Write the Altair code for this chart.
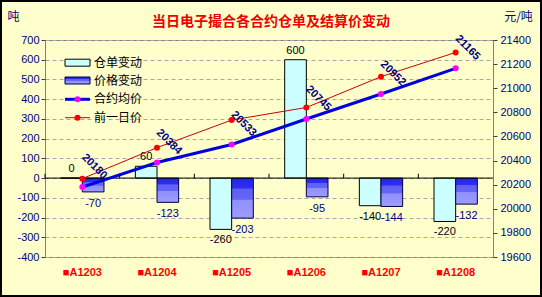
import altair as alt
import pandas as pd

# ---- data ----
cats = ["■A1203", "■A1204", "■A1205", "■A1206", "■A1207", "■A1208"]
warrant_chg = [0, 60, -260, 600, -140, -220]          # 仓单变动 (吨)
price_chg = [-70, -123, -203, -95, -144, -132]        # 价格变动
avg_price = [20180, 20384, 20533, 20745, 20952, 21165]  # 合约均价
prev_price = [20250, 20507, 20736, 20840, 21096, 21297]  # 前一日价
series_bar = ["仓单变动", "价格变动"]
series_line = ["合约均价", "前一日价"]
left_ticks = list(range(-400, 701, 100))
right_ticks = list(range(19600, 21401, 200))
title_text = "当日电子撮合各合约仓单及结算价变动"

NAVY = "#000080"
CJK = "Noto Sans CJK SC"
W, H = 448, 217

bars_df = pd.DataFrame({
    "cat": cats * 2,
    "series": [series_bar[0]] * len(cats) + [series_bar[1]] * len(cats),
    "value": warrant_chg + price_chg,
})
lines_df = pd.DataFrame({"cat": cats, "avg": avg_price, "prev": prev_price})
one = pd.DataFrame({"k": [0]})

x_scale = alt.Scale(paddingInner=0.42, paddingOuter=0.21)
x_axis = alt.Axis(title=None, labelColor="#FF0000", labelFontWeight="bold",
                  labelFontSize=11, labelAngle=0, ticks=False, domain=False,
                  labelPadding=9, labelFont="Liberation Sans")


def make_x(**kw):
    return alt.X("cat:N", sort=cats, scale=x_scale, axis=x_axis, **kw)


xo = alt.XOffset("series:N", sort=series_bar,
                 scale=alt.Scale(domain=series_bar, paddingInner=0, paddingOuter=0))

left_scale = alt.Scale(domain=[-400, 700], nice=False, zero=False)
left_axis = alt.Axis(values=left_ticks, title="吨", titleAngle=0, titleX=-32, titleY=-24,
                     titleAlign="center", titleBaseline="middle", titleColor=NAVY,
                     titleFont=CJK, titleFontSize=12, titleFontWeight="normal",
                     labelColor=NAVY, labelFontSize=11, tickSize=4, tickColor="#404040",
                     labelPadding=2, domain=False, grid=True, gridColor="#A8A8A8",
                     gridDash=[4, 3], labelOverlap=False,
                     labelExpr="'' + datum.value")
y_left = alt.Y("value:Q", scale=left_scale, axis=left_axis)


def y_right(field):
    return alt.Y(f"{field}:Q", scale=alt.Scale(domain=[19600, 21400], nice=False, zero=False),
                 axis=alt.Axis(orient="right", values=right_ticks, title="元/吨", titleAngle=0,
                               titleX=25, titleY=-24, titleAlign="center", titleBaseline="middle",
                               titleColor=NAVY, titleFont=CJK, titleFontSize=12,
                               titleFontWeight="normal", labelColor=NAVY, labelFontSize=11,
                               tickSize=4, tickColor="#404040", labelPadding=3, domain=False,
                               grid=False, labelOverlap=False,
                               labelExpr="'' + datum.value"))


grad = alt.Gradient(gradient="linear", x1=0, x2=0, y1=0, y2=1, stops=[
    alt.GradientStop(offset=0, color="#2424EE"),
    alt.GradientStop(offset=0.25, color="#2E2EF0"),
    alt.GradientStop(offset=0.27, color="#5E5EF2"),
    alt.GradientStop(offset=0.53, color="#6666F4"),
    alt.GradientStop(offset=0.55, color="#9090FF"),
    alt.GradientStop(offset=1, color="#9C9CFF"),
])

base_bars = alt.Chart(bars_df).transform_calculate(label="'' + datum.value")

bar_w = base_bars.transform_filter(alt.datum.series == series_bar[0]).mark_bar(
    fill="#CCFFFF", stroke="#000000", strokeWidth=1).encode(x=make_x(), xOffset=xo, y=y_left)
bar_p = base_bars.transform_filter(alt.datum.series == series_bar[1]).mark_bar(
    fill=grad, stroke="#000040", strokeWidth=1).encode(x=make_x(), xOffset=xo, y=y_left)

lbl_w_pos = base_bars.transform_filter(
    f"datum.series == '{series_bar[0]}' && datum.value >= 0").mark_text(
    baseline="bottom", dy=-4, color="#000000", fontSize=11, font="Liberation Sans").encode(
    x=make_x(), xOffset=xo, y=y_left, text="label:N")
lbl_w_neg = base_bars.transform_filter(
    f"datum.series == '{series_bar[0]}' && datum.value < 0").mark_text(
    baseline="top", dy=5, color="#000000", fontSize=11, font="Liberation Sans").encode(
    x=make_x(), xOffset=xo, y=y_left, text="label:N")
lbl_p = base_bars.transform_filter(alt.datum.series == series_bar[1]).mark_text(
    baseline="top", dy=6, color=NAVY, fontSize=11, font="Liberation Sans").encode(
    x=make_x(), xOffset=xo, y=y_left, text="label:N")

zero_rule = alt.Chart(one).mark_rule(color="#000000", strokeWidth=1).encode(
    y=alt.YDatum(0, scale=left_scale, axis=left_axis))
cat_ticks = alt.Chart(pd.DataFrame({"cat": cats})).mark_rule(
    color="#000000", strokeWidth=1, xOffset=-15.68).encode(
    x=make_x(bandPosition=0), y=alt.YDatum(0, scale=left_scale, axis=left_axis),
    y2=alt.datum(22))

# title and frame
title_mark = alt.Chart(one).mark_text(text=title_text, font=CJK, fontSize=14, fontWeight="bold",
                                      color="#EE0000", align="center", baseline="middle").encode(
    x=alt.value(226), y=alt.value(-18))
frame = alt.Chart(one).mark_rect(fillOpacity=0, stroke="#000000", strokeWidth=2).encode(
    x=alt.value(-44), x2=alt.value(W + 48), y=alt.value(-39), y2=alt.value(H + 39))

# legend (inside plot, upper left)
leg = []
ly = [22.7, 40.5, 59.3, 77.7]
leg.append(alt.Chart(one).mark_rect(fill="#CCFFFF", stroke="#000000", strokeWidth=1).encode(
    x=alt.value(20), x2=alt.value(45), y=alt.value(ly[0] - 3.5), y2=alt.value(ly[0] + 3.5)))
leg.append(alt.Chart(one).mark_rect(fill=grad, stroke="#000040", strokeWidth=1).encode(
    x=alt.value(20), x2=alt.value(45), y=alt.value(ly[1] - 3.5), y2=alt.value(ly[1] + 3.5)))
leg.append(alt.Chart(one).mark_rule(color="#0000E0", strokeWidth=3).encode(
    x=alt.value(20), x2=alt.value(45), y=alt.value(ly[2])))
leg.append(alt.Chart(one).mark_point(filled=True, color="#FF00FF", size=36, opacity=1).encode(
    x=alt.value(32.5), y=alt.value(ly[2])))
leg.append(alt.Chart(one).mark_rule(color="#CC0000", strokeWidth=1).encode(
    x=alt.value(20), x2=alt.value(45), y=alt.value(ly[3])))
leg.append(alt.Chart(one).mark_point(filled=True, color="#FF0000", size=36, opacity=1).encode(
    x=alt.value(32.5), y=alt.value(ly[3])))
names = series_bar + series_line
for i, nm in enumerate(names):
    leg.append(alt.Chart(one).mark_text(text=nm, font=CJK, fontSize=12, color="#000000",
                                        align="left", baseline="middle").encode(
        x=alt.value(49), y=alt.value(ly[i])))

left = alt.layer(bar_w, bar_p, zero_rule, cat_ticks, lbl_w_pos, lbl_w_neg, lbl_p,
                 title_mark, frame, *leg)

# right axis: price lines
base_lines = alt.Chart(lines_df).transform_calculate(avg_label="'' + datum.avg")
line_avg = base_lines.mark_line(color="#0000E0", strokeWidth=3).encode(x=make_x(), y=y_right("avg"))
pts_avg = base_lines.mark_point(filled=True, color="#FF00FF", size=36, opacity=1).encode(
    x=make_x(), y=y_right("avg"))
line_prev = base_lines.mark_line(color="#CC0000", strokeWidth=1).encode(x=make_x(), y=y_right("prev"))
pts_prev = base_lines.mark_point(filled=True, color="#FF0000", size=36, opacity=1).encode(
    x=make_x(), y=y_right("prev"))
lbl_avg = base_lines.mark_text(angle=45, dx=-6, dy=-23, color=NAVY, fontWeight="bold", fontSize=11,
                               font="Liberation Sans", align="center", baseline="middle").encode(
    x=make_x(), y=y_right("avg"), text="avg_label:N")

right = alt.layer(line_avg, line_prev, pts_avg, pts_prev, lbl_avg)

chart = alt.layer(left, right).resolve_scale(y="independent").properties(
    width=W, height=H,
    padding={"left": 45, "top": 40, "right": 49, "bottom": 40},
    autosize=alt.AutoSizeParams(type="none"),
    background="#FFFFCC",
).configure_view(stroke="#808080", strokeWidth=1, fill="#FFFFCC").configure_axis(
    labelFont="Liberation Sans", labelOverlap=False)

chart.save("out.html", embed_options={"renderer": "svg", "actions": False})
